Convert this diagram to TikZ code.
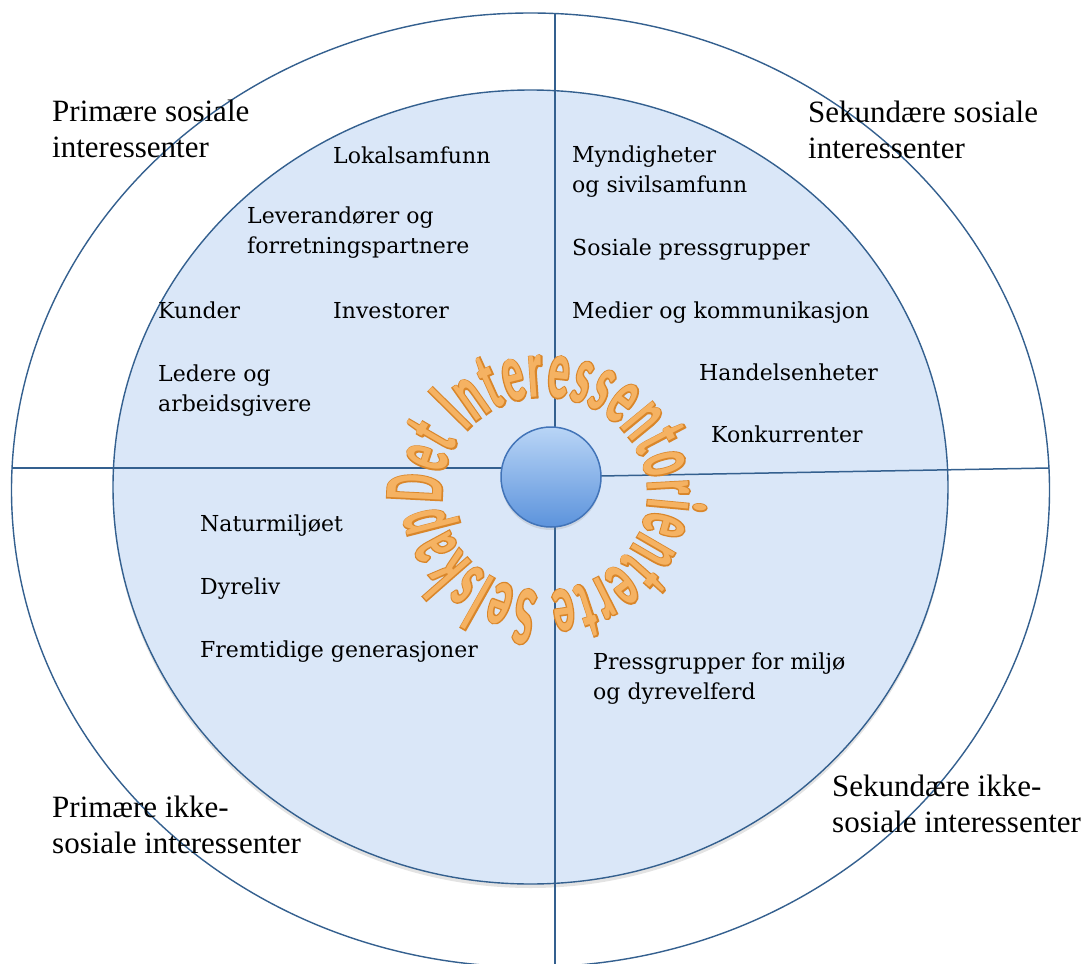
\documentclass[tikz,border=0pt]{standalone}
\usepackage{fontspec}
\setmainfont{Liberation Serif}
\newfontfamily\itemfont{DejaVu Serif}
\newfontfamily\ringfont[FakeStretch=0.5]{Carlito Bold}
\newfontfamily\ringfontout[FakeStretch=0.5,FakeBold=3]{Carlito Bold}
\usetikzlibrary{shapes.geometric,decorations.text,shadows}
\definecolor{linec}{HTML}{34608F}
\definecolor{fillc}{HTML}{DAE7F8}
\definecolor{ringdark}{HTML}{D9862A}
\definecolor{ringlight}{HTML}{F5B262}
\definecolor{hubtop}{HTML}{B9D5F6}
\definecolor{hubbot}{HTML}{5C93DC}
\definecolor{hubline}{HTML}{4274B8}
\tikzset{
  ringellipse/.style={draw=linec, line width=1.4pt, ellipse, inner sep=0pt},
  axisline/.style={draw=linec, line width=1.5pt},
  corner/.style={anchor=base west, inner sep=0pt, font=\fontsize{31}{36}\selectfont, align=left},
  item/.style={anchor=base west, inner sep=0pt, font=\itemfont\fontsize{22}{30}\selectfont, align=left},
  ringpath/.style={decorate, font=\ringfont\fontsize{84}{84}\selectfont},
}
\begin{document}
\begin{tikzpicture}[x=1pt,y=1pt]
\useasboundingbox (0,0) rectangle (1090,-964);
\clip (0,0) rectangle (1090,-964);
\fill[white] (0,0) rectangle (1090,-964);

% ellipses
\node[ringellipse, minimum width=1038, minimum height=954] (outer) at (530.5,-490) {};
\node[ringellipse, fill=fillc, minimum width=835, minimum height=794,
      drop shadow={shadow xshift=0pt, shadow yshift=-4pt, opacity=0.22}] (inner) at (530.5,-487) {};

% axis end points
\coordinate (hL) at (12,-468);
\coordinate (hLc) at (508,-468);
\coordinate (hRc) at (600,-476);
\coordinate (hR) at (1049,-468);
\coordinate (vT) at (555,-13);
\coordinate (vTc) at (555,-428);
\coordinate (vBc) at (555,-526);
\coordinate (vB) at (555,-975);
\draw[axisline] (hL) -- (hLc);
\draw[axisline] (hRc) -- (hR);
\draw[axisline] (vT) -- (vTc);
\draw[axisline] (vBc) -- (vB);

% hub
\node[circle, minimum size=100, inner sep=0pt, top color=hubtop, bottom color=hubbot,
      draw=hubline, line width=1.5pt,
      drop shadow={shadow xshift=0pt, shadow yshift=-3pt, opacity=0.2}] (hub) at (551,-477) {};

% ring text (emboldened dark pass as outline, then light fill)
\coordinate (ringc) at (545,-494);
\path[ringpath, decoration={text along path, text align=fit to path,
      text={|\ringfontout\fontsize{84}{84}\selectfont\color{ringdark}|Det Interessentorienterte Selskap}}]
  (ringc) ++(185:103 and 97) arc[start angle=185, end angle=-173, x radius=103, y radius=97];
\path[ringpath, decoration={text along path, text align=fit to path,
      text={|\ringfont\fontsize{84}{84}\selectfont\color{ringlight}|Det Interessentorienterte Selskap}}]
  (ringc) ++(185:103 and 97) arc[start angle=185, end angle=-173, x radius=103, y radius=97];

% corner labels
\node[corner] (tl) at (52,-157) {Primære sosiale\\interessenter};
\node[corner] (tr) at (808,-158) {Sekundære sosiale\\interessenter};
\node[corner] (bl) at (52,-853) {Primære ikke-\\sosiale interessenter};
\node[corner] (br) at (832,-832) {Sekundære ikke-\\sosiale interessenter};

% items
\node[item] (lok) at (333,-163) {Lokalsamfunn};
\node[item] (lev) at (247,-253) {Leverandører og\\forretningspartnere};
\node[item] (kun) at (158,-318) {Kunder};
\node[item] (inv) at (333,-318) {Investorer};
\node[item] (led) at (158,-411) {Ledere og\\arbeidsgivere};
\node[item] (myn) at (572,-192) {Myndigheter\\og sivilsamfunn};
\node[item] (sos) at (572,-255) {Sosiale pressgrupper};
\node[item] (med) at (572,-318) {Medier og kommunikasjon};
\node[item] (han) at (699,-380) {Handelsenheter};
\node[item] (kon) at (711,-442) {Konkurrenter};
\node[item] (nat) at (200,-531) {Naturmiljøet};
\node[item] (dyr) at (200,-594) {Dyreliv};
\node[item] (fre) at (200,-657) {Fremtidige generasjoner};
\node[item] (pre) at (593,-699) {Pressgrupper for miljø\\og dyrevelferd};
\end{tikzpicture}
\end{document}
